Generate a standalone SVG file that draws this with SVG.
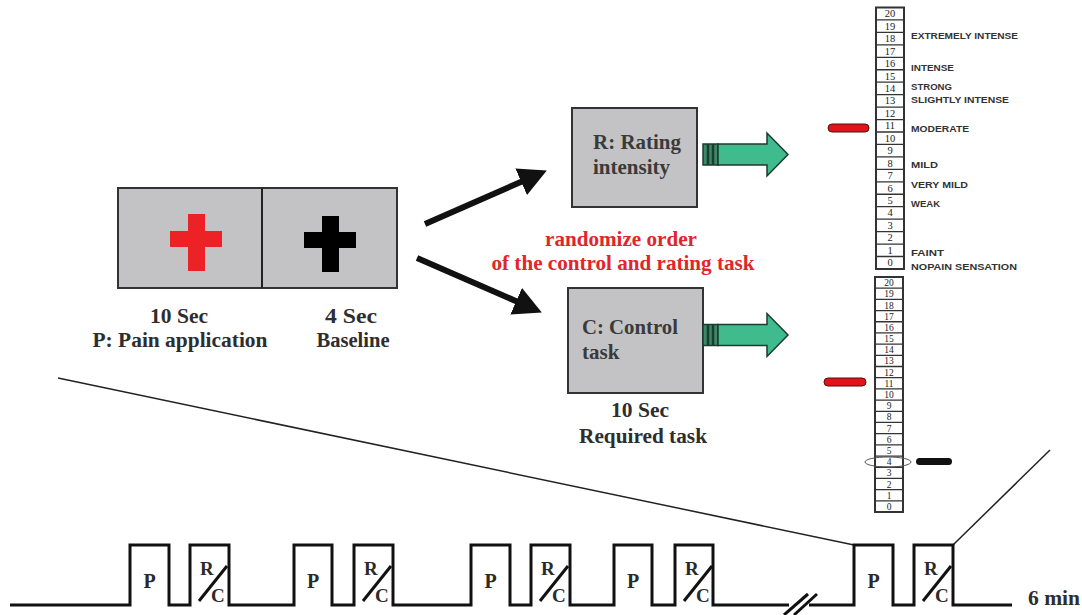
<svg xmlns="http://www.w3.org/2000/svg" width="1082" height="615" viewBox="0 0 1082 615">
<style>
.box{fill:#c3c3c5;stroke:#333;stroke-width:2}
.lbl{font-family:"Liberation Serif","Times New Roman",serif;font-weight:bold;font-size:20px;fill:#2e2e2e}
.blbl{font-family:"Liberation Serif","Times New Roman",serif;font-weight:bold;font-size:21px;fill:#3a3a3a}
.red{font-family:"Liberation Serif","Times New Roman",serif;font-weight:bold;font-size:21px;fill:#e0262b;text-anchor:middle}
.arr{stroke:#111;stroke-width:6;fill:none;marker-end:url(#head)}
.garr{fill:#3fbb8e;stroke:#1d3b2e;stroke-width:1.5}
.tail{fill:#3a8a6a;stroke:#1d3b2e;stroke-width:1.5}
.stripe{stroke:#1d3b2e;stroke-width:2.5}
.scale{fill:#fff;stroke:#333;stroke-width:2}
.cell{stroke:#333;stroke-width:1.3}
.num{font-family:"Liberation Serif","Times New Roman",serif;font-size:10.5px;fill:#222;text-anchor:middle}
.num2{font-family:"Liberation Serif","Times New Roman",serif;font-size:9.5px;fill:#222;text-anchor:middle}
.sl{font-family:"Liberation Sans",Arial,sans-serif;font-weight:bold;font-size:9.5px;fill:#333}
.tl{fill:none;stroke:#111;stroke-width:3}
.thin{stroke:#222;stroke-width:1.5;fill:none}
.pl{font-family:"Liberation Serif","Times New Roman",serif;font-weight:bold;font-size:20px;fill:#2a2a2a;text-anchor:middle}
.rc{font-family:"Liberation Serif","Times New Roman",serif;font-weight:bold;font-size:19px;fill:#2a2a2a}
.slash{stroke:#111;stroke-width:3}
</style>
<defs>
<marker id="head" markerUnits="userSpaceOnUse" markerWidth="30" markerHeight="30" viewBox="0 -15 30 30" refX="2" refY="0" orient="auto">
<path d="M0,-14.5 L28,0 L0,14.5 Z" fill="#111"/>
</marker>
<g id="green">
<rect class="tail" x="703" y="-10.5" width="15" height="21"/>
<line class="stripe" x1="708" y1="-10.5" x2="708" y2="10.5"/>
<line class="stripe" x1="713" y1="-10.5" x2="713" y2="10.5"/>
<path class="garr" d="M718,-10.5 H767 V-21.5 L788,0 L767,21.5 V10.5 H718 Z"/>
</g>
</defs>

<g id="stimulus">
<rect class="box" x="118" y="188" width="279" height="100"/>
<line x1="262" y1="188" x2="262" y2="288" stroke="#222" stroke-width="2"/>
<path d="M188,214 H205 V231 H222 V247 H205 V271 H188 V247 H170 V231 H188 Z" fill="#ec2227"/>
<path d="M322,216 H339 V232 H356 V248 H339 V272 H322 V248 H304 V232 H322 Z" fill="#000"/>
<text class="lbl" x="179" y="323" text-anchor="middle" textLength="58" lengthAdjust="spacingAndGlyphs">10 Sec</text>
<text class="lbl" x="180" y="347" text-anchor="middle" textLength="175" lengthAdjust="spacingAndGlyphs">P: Pain application</text>
<text class="lbl" x="351" y="323" text-anchor="middle" textLength="52" lengthAdjust="spacingAndGlyphs">4 Sec</text>
<text class="lbl" x="353" y="347" text-anchor="middle" textLength="73" lengthAdjust="spacingAndGlyphs">Baseline</text>
</g>

<g id="rating">
<rect class="box" x="572" y="108" width="125" height="99"/>
<text class="blbl" x="593" y="149" textLength="88" lengthAdjust="spacingAndGlyphs">R: Rating</text>
<text class="blbl" x="593" y="174" textLength="77" lengthAdjust="spacingAndGlyphs">intensity</text>
</g>

<g id="control">
<rect class="box" x="568" y="288" width="135" height="105"/>
<text class="blbl" x="582" y="334" textLength="96" lengthAdjust="spacingAndGlyphs">C: Control</text>
<text class="blbl" x="582" y="359">task</text>
<text class="lbl" x="640" y="417" text-anchor="middle" textLength="58" lengthAdjust="spacingAndGlyphs">10 Sec</text>
<text class="lbl" x="643" y="443" text-anchor="middle" textLength="128" lengthAdjust="spacingAndGlyphs">Required task</text>
</g>

<g id="randomize">
<text class="red" x="621" y="246" textLength="152" lengthAdjust="spacingAndGlyphs">randomize order</text>
<text class="red" x="623" y="270" textLength="263" lengthAdjust="spacingAndGlyphs">of the control and rating task</text>
</g>

<g id="connectors">
<line class="arr" x1="425" y1="224" x2="523" y2="181"/>
<line class="arr" x1="417" y1="258" x2="518" y2="302"/>
<use href="#green" transform="translate(0,154.5)"/>
<use href="#green" transform="translate(0,335)"/>
<line class="thin" x1="58" y1="378" x2="854" y2="545"/>
<line class="thin" x1="953" y1="545" x2="1050" y2="450"/>
</g>

<g id="scale-top">
<rect class="scale" x="876" y="7.5" width="28" height="261.5"/>
<path class="cell" d="M876,19.95H904M876,32.4H904M876,44.85H904M876,57.3H904M876,69.75H904M876,82.2H904M876,94.65H904M876,107.1H904M876,119.55H904M876,132H904M876,144.45H904M876,156.9H904M876,169.35H904M876,181.8H904M876,194.25H904M876,206.7H904M876,219.15H904M876,231.6H904M876,244.05H904M876,256.5H904"/>
<text class="num" x="890" y="17.2">20</text>
<text class="num" x="890" y="29.7">19</text>
<text class="num" x="890" y="42.1">18</text>
<text class="num" x="890" y="54.6">17</text>
<text class="num" x="890" y="67">16</text>
<text class="num" x="890" y="79.5">15</text>
<text class="num" x="890" y="91.9">14</text>
<text class="num" x="890" y="104.4">13</text>
<text class="num" x="890" y="116.8">12</text>
<text class="num" x="890" y="129.3">11</text>
<text class="num" x="890" y="141.7">10</text>
<text class="num" x="890" y="154.2">9</text>
<text class="num" x="890" y="166.6">8</text>
<text class="num" x="890" y="179.1">7</text>
<text class="num" x="890" y="191.5">6</text>
<text class="num" x="890" y="204">5</text>
<text class="num" x="890" y="216.4">4</text>
<text class="num" x="890" y="228.9">3</text>
<text class="num" x="890" y="241.3">2</text>
<text class="num" x="890" y="253.8">1</text>
<text class="num" x="890" y="266.2">0</text>
<text class="sl" x="911" y="38.5" textLength="107" lengthAdjust="spacingAndGlyphs">EXTREMELY INTENSE</text>
<text class="sl" x="911" y="70.5" textLength="43" lengthAdjust="spacingAndGlyphs">INTENSE</text>
<text class="sl" x="911" y="89.5" textLength="41" lengthAdjust="spacingAndGlyphs">STRONG</text>
<text class="sl" x="911" y="102.5" textLength="98" lengthAdjust="spacingAndGlyphs">SLIGHTLY INTENSE</text>
<text class="sl" x="911" y="131.5" textLength="58" lengthAdjust="spacingAndGlyphs">MODERATE</text>
<text class="sl" x="911" y="168" textLength="27" lengthAdjust="spacingAndGlyphs">MILD</text>
<text class="sl" x="911" y="187.5" textLength="57" lengthAdjust="spacingAndGlyphs">VERY MILD</text>
<text class="sl" x="911" y="207" textLength="29" lengthAdjust="spacingAndGlyphs">WEAK</text>
<text class="sl" x="911" y="255.5" textLength="33" lengthAdjust="spacingAndGlyphs">FAINT</text>
<text class="sl" x="911" y="270" textLength="106" lengthAdjust="spacingAndGlyphs">NOPAIN SENSATION</text>
<rect x="828" y="124" width="41" height="8" rx="4" fill="#e0151b" stroke="#5a0f0f" stroke-width="1"/>
</g>

<g id="scale-bottom">
<rect class="scale" x="875" y="277" width="28" height="235"/>
<path class="cell" d="M875,288.19H903M875,299.38H903M875,310.57H903M875,321.76H903M875,332.95H903M875,344.14H903M875,355.33H903M875,366.52H903M875,377.71H903M875,388.9H903M875,400.09H903M875,411.28H903M875,422.47H903M875,433.66H903M875,444.85H903M875,456.04H903M875,467.23H903M875,478.42H903M875,489.61H903M875,500.8H903"/>
<text class="num2" x="889" y="286.1">20</text>
<text class="num2" x="889" y="297.3">19</text>
<text class="num2" x="889" y="308.5">18</text>
<text class="num2" x="889" y="319.7">17</text>
<text class="num2" x="889" y="330.9">16</text>
<text class="num2" x="889" y="342">15</text>
<text class="num2" x="889" y="353.2">14</text>
<text class="num2" x="889" y="364.4">13</text>
<text class="num2" x="889" y="375.6">12</text>
<text class="num2" x="889" y="386.8">11</text>
<text class="num2" x="889" y="398">10</text>
<text class="num2" x="889" y="409.2">9</text>
<text class="num2" x="889" y="420.4">8</text>
<text class="num2" x="889" y="431.6">7</text>
<text class="num2" x="889" y="442.8">6</text>
<text class="num2" x="889" y="453.9">5</text>
<text class="num2" x="889" y="465.1">4</text>
<text class="num2" x="889" y="476.3">3</text>
<text class="num2" x="889" y="487.5">2</text>
<text class="num2" x="889" y="498.7">1</text>
<text class="num2" x="889" y="509.9">0</text>
<rect x="824" y="378" width="42" height="8" rx="4" fill="#e0151b" stroke="#5a0f0f" stroke-width="1"/>
<ellipse cx="888" cy="462" rx="23" ry="5" fill="none" stroke="#555" stroke-width="1"/>
<rect x="916" y="458" width="36" height="7" rx="3.5" fill="#111"/>
</g>

<g id="timeline">
<path class="tl" d="M10,605 H130 V545 H169 V605 H190 V545 H229 V605 H294 V545 H332 V605 H354 V545 H393 V605 H471 V545 H510 V605 H531 V545 H570 V605 H614 V545 H652 V605 H675 V545 H713 V605 H789"/>
<path class="tl" d="M809,605 H854 V545 H893 V605 H914 V545 H953 V605 H1012"/>
<line class="slash" x1="784" y1="615" x2="808" y2="594"/>
<line class="slash" x1="794" y1="615" x2="817" y2="594"/>
<text class="pl" x="149.5" y="588">P</text>
<text class="pl" x="313" y="588">P</text>
<text class="pl" x="490.5" y="588">P</text>
<text class="pl" x="633" y="588">P</text>
<text class="pl" x="873.5" y="588">P</text>
<g id="rc1"><text class="rc" x="200" y="575">R</text><line class="slash" x1="199" y1="601" x2="227" y2="566"/><text class="rc" x="211" y="602">C</text></g>
<g id="rc2"><text class="rc" x="364" y="575">R</text><line class="slash" x1="363" y1="601" x2="391" y2="566"/><text class="rc" x="375" y="602">C</text></g>
<g id="rc3"><text class="rc" x="541" y="575">R</text><line class="slash" x1="540" y1="601" x2="568" y2="566"/><text class="rc" x="552" y="602">C</text></g>
<g id="rc4"><text class="rc" x="685" y="575">R</text><line class="slash" x1="684" y1="601" x2="712" y2="566"/><text class="rc" x="696" y="602">C</text></g>
<g id="rc5"><text class="rc" x="924" y="575">R</text><line class="slash" x1="923" y1="601" x2="951" y2="566"/><text class="rc" x="935" y="602">C</text></g>
<text class="lbl" x="1028" y="605" textLength="52" lengthAdjust="spacingAndGlyphs">6 min</text>
</g>
</svg>
